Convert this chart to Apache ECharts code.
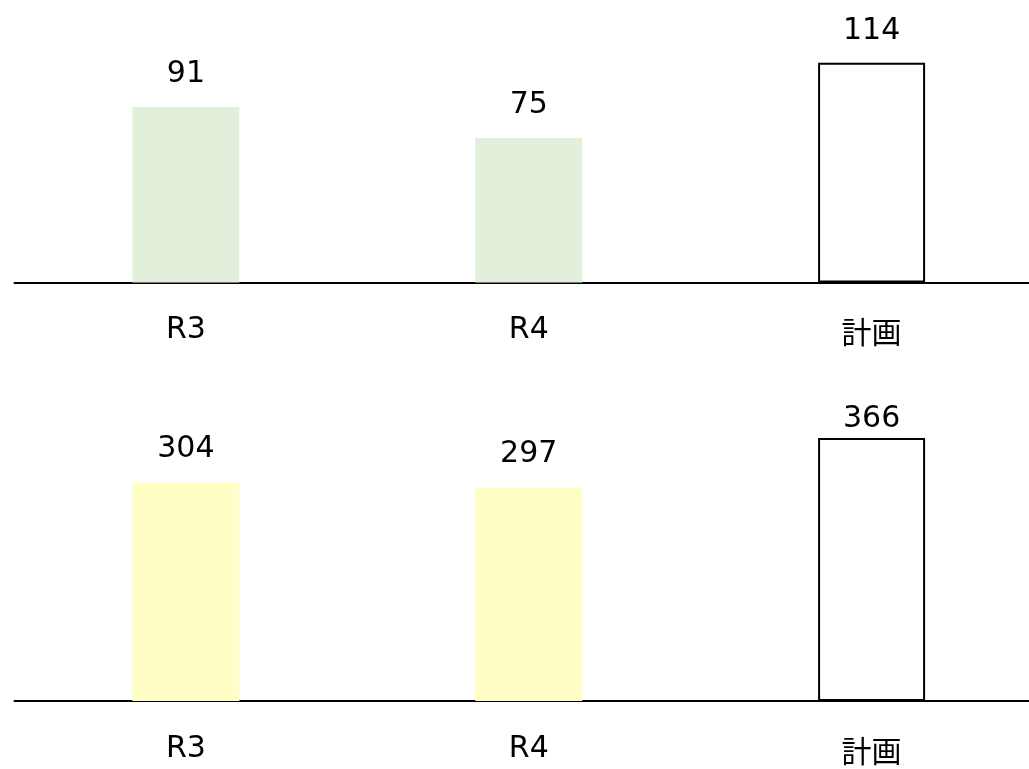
<!DOCTYPE html>
<html>
<head>
<meta charset="utf-8">
<script src="https://cdn.jsdelivr.net/npm/echarts@6/dist/echarts.min.js"></script>
<style>
  html, body { margin: 0; padding: 0; background: #fff; overflow: hidden; }
  /* chart runs a bit past the right edge, as in the source */
  #main { width: 1043px; height: 769px; }
</style>
</head>
<body>
<div id="main"></div>
<script>
var categories = ['R3', 'R4', '計画'];
var topValues = [91, 75, 114];
var bottomValues = [304, 297, 366];
var topColor = '#E2EFDA';
var bottomColor = '#FFFFC5';

var myChart = echarts.init(document.getElementById('main'));
var font = "'DejaVu Sans', 'Noto Sans CJK JP', sans-serif";

// last bar (計画) is an outlined white box
function buildData(values, fill, lastLabelDist) {
    return values.map(function (v, i) {
        if (i === values.length - 1) {
            return {
                value: v,
                itemStyle: {color: '#fff', borderColor: '#000', borderWidth: 2},
                label: {distance: lastLabelDist}
            };
        }
        return {value: v, itemStyle: {color: fill}};
    });
}

function xAxisFor(gridIndex) {
    return {
        type: 'category',
        gridIndex: gridIndex,
        data: categories.map(function (c, i) {
            if (i === categories.length - 1) {
                return {value: c, textStyle: {padding: [5, 0, 0, 0]}};
            }
            return c;
        }),
        axisTick: {show: false},
        axisLine: {lineStyle: {color: '#000', width: 2}},
        axisLabel: {
            color: '#000',
            fontSize: 30,
            fontFamily: font,
            margin: 33
        }
    };
}

var labelStyle = {
    show: true,
    position: 'top',
    distance: 18,
    color: '#000',
    fontSize: 30,
    fontFamily: font
};

var option = {
    animation: false,
    grid: [
        {left: 14.5, right: 0, top: 51.1, height: 231.4},
        {left: 14.5, right: 0, top: 413.6, height: 288.7}
    ],
    xAxis: [xAxisFor(0), xAxisFor(1)],
    yAxis: [
        {type: 'value', gridIndex: 0, min: 0, max: 120, show: false},
        {type: 'value', gridIndex: 1, min: 0, max: 400, show: false}
    ],
    series: [
        {
            type: 'bar',
            xAxisIndex: 0,
            yAxisIndex: 0,
            barWidth: 107,
            data: buildData(topValues, topColor, 16),
            label: labelStyle
        },
        {
            type: 'bar',
            xAxisIndex: 1,
            yAxisIndex: 1,
            barWidth: 107,
            data: buildData(bottomValues, bottomColor, 4),
            label: labelStyle
        }
    ]
};
myChart.setOption(option);

window.addEventListener("resize", function () {
    myChart.resize();
});
</script>
</body>
</html>
